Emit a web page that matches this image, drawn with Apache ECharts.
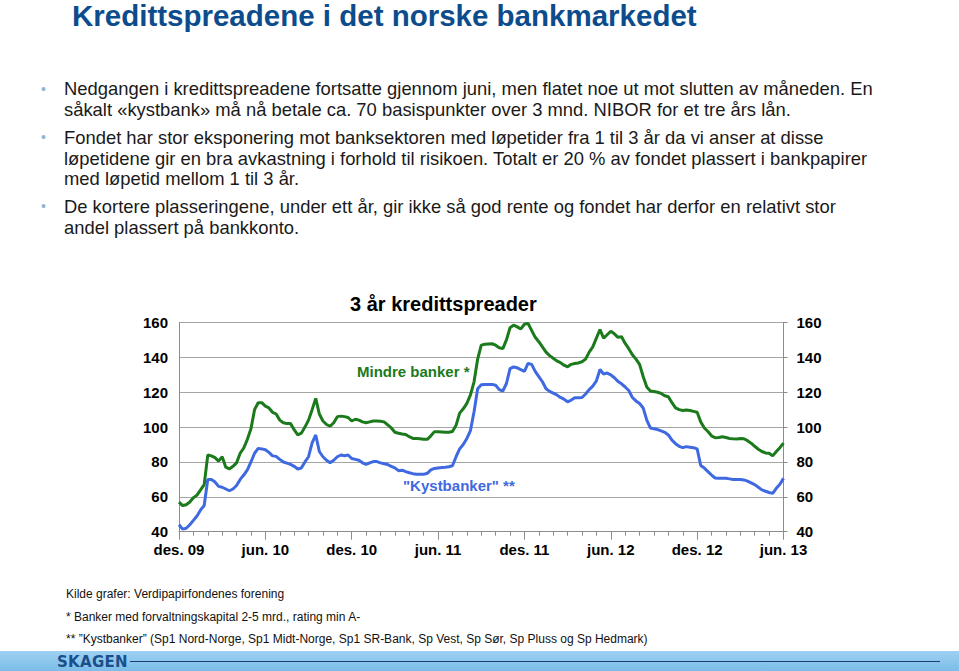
<!DOCTYPE html>
<html>
<head>
<meta charset="utf-8">
<script src="https://cdn.jsdelivr.net/npm/echarts@6/dist/echarts.min.js"></script>
<style>
html,body{margin:0;padding:0;width:959px;height:671px;overflow:hidden;background:#fff;font-family:"Liberation Sans",Arial,sans-serif;}
#chart{position:absolute;left:0;top:0;width:959px;height:671px;}
.t{position:absolute;white-space:nowrap;color:#1a1a1a;}
#title{left:72px;top:0px;font-size:29.5px;line-height:31px;font-weight:bold;color:#0d4c8c;}
.b{position:absolute;left:64px;font-size:18.4px;line-height:20.5px;color:#1a1a1a;white-space:nowrap;}
.dot{position:absolute;left:41px;font-size:14px;color:#8fb5d6;}
.fn{position:absolute;left:66px;font-size:12px;color:#111;white-space:nowrap;}
#bar{position:absolute;left:0;top:651px;width:959px;height:20px;background:linear-gradient(#9fd0f2,#7bbde9);}
#logo{position:absolute;left:57px;top:653px;font-size:15px;font-weight:bold;color:#1b4f8c;letter-spacing:0.3px;font-family:"DejaVu Sans","Liberation Sans",sans-serif;}
#rule{position:absolute;left:130px;top:661px;width:810px;height:1px;background:#1b3f70;}
</style>
</head>
<body>
<div id="chart"></div>
<div id="title" class="t">Kredittspreadene i det norske bankmarkedet</div>
<div class="dot" style="top:81px">•</div>
<div class="b" style="top:79px">Nedgangen i kredittspreadene fortsatte gjennom juni, men flatet noe ut mot slutten av måneden. En<br>såkalt «kystbank» må nå betale ca. 70 basispunkter over 3 mnd. NIBOR for et tre års lån.</div>
<div class="dot" style="top:129px">•</div>
<div class="b" style="top:128px">Fondet har stor eksponering mot banksektoren med løpetider fra 1 til 3 år da vi anser at disse<br>løpetidene gir en bra avkastning i forhold til risikoen. Totalt er 20 % av fondet plassert i bankpapirer<br>med løpetid mellom 1 til 3 år.</div>
<div class="dot" style="top:198px">•</div>
<div class="b" style="top:197px">De kortere plasseringene, under ett år, gir ikke så god rente og fondet har derfor en relativt stor<br>andel plassert på bankkonto.</div>
<div class="fn" style="top:587px">Kilde grafer: Verdipapirfondenes forening</div>
<div class="fn" style="top:610px">* Banker med forvaltningskapital 2-5 mrd., rating min A-</div>
<div class="fn" style="top:632px">** ”Kystbanker” (Sp1 Nord-Norge, Sp1 Midt-Norge, Sp1 SR-Bank, Sp Vest, Sp Sør, Sp Pluss og Sp Hedmark)</div>
<div id="bar"></div>
<div id="rule"></div>
<div id="logo">SKAGEN</div>
<script>
// Tick labels (every 6 months, 24 quarter-month steps)
var tickLabels = ['des. 09','jun. 10','des. 10','jun. 11','des. 11','jun. 12','des. 12','jun. 13'];
var stepsPerLabel = 24;
var stepsPerMonth = 4;

// Mindre banker * (basis points), quarter-month steps from des. 09 to jun. 13
var mindreBanker = [
57,55,55.5,57,59.5,61,64,67,84,83.5,82.5,80.5,83,77,76,77.5,79.5,85,88,93,
99,110,114,114,112,111,108.5,107.5,104,102.5,102,102,98.5,95.5,96.5,100,104,110,116.5,107.5,
103.5,101.5,100.5,102.5,106,106.3,106,105.5,103.5,104.5,104,103,102.5,103,103.5,103.5,103.3,103,101.3,99.5,
97,96.5,96,95.8,94.5,93.5,93.5,93.3,93,93,95,97.4,97.4,97.2,97,97,97.5,101,108,110.5,
113.6,118.5,126,139,147,147.5,147.7,147.8,147,145.5,145,150,157,158.5,157.5,156.3,159,159.5,155.5,151.5,
149,146,143,141,139.5,138,137,135.5,134.6,136,136.5,136.8,137.5,139,143,146,151,156,151,153,
155,153.5,151.5,151.8,148,145,141.5,139,136,129,123,120.7,120.4,120,119.3,118,117.4,114,111,110,
109.5,109.8,109.5,109,108.5,103,99.5,97.5,95,93.9,94,94.5,94,93.5,93.3,93.2,93.5,93.3,92.2,90.8,
89,87.3,86,85.2,85,83.5,86,88.2,90.8
];

// "Kystbanker" ** (basis points)
var kystbanker = [
44,41.5,42,44,46.5,49,52.5,55,70,70,68.5,66,65.5,64.5,63.5,64.5,66.5,70,72.5,75.5,
80,85,87.8,87.5,87,85.5,83.5,83.2,81.5,80,79.3,78.6,77.5,76,76.5,80,83,91,95.5,86,
83,81,79.5,81,83,84,83.6,84,82,81.5,81,79.5,78.6,79.5,80.2,80.2,79.5,79,78.5,77.5,
76.6,75,75.3,74.5,73.8,73.3,73,72.9,72.9,73.5,75.5,76.3,76.6,76.8,77,77.3,77.8,83,87.5,90,
93.5,98,108.8,122,124.3,124.5,124.5,124.5,124,121.5,120.7,125,133.5,134.5,134,133,132,136.5,136,132,
129,126,122,120.5,119.5,118.5,117,116,114.5,115.5,116.8,116.8,117,119,121.5,123.5,126.5,133,130.5,131,
130,128.3,126.2,124.8,123,121,117,115,113.5,111,104,99.5,99,98.6,97.8,97,95.5,92.5,90.5,89,
88.2,88.8,88.5,88.2,87.5,78,76.5,74.5,72.5,70.8,70.6,70.6,70.6,70.3,70,70,70,69.7,69,68,
67,65.5,64,63.2,62.5,62,64.9,67.2,70.6
];

var categories = mindreBanker.map(function(_, i){ return String(i); });

var chart = echarts.init(document.getElementById('chart'), null, {renderer:'svg'});
var axisFont = {fontFamily:'"Liberation Sans", Arial, sans-serif', fontSize:15, fontWeight:'bold', color:'#000'};
chart.setOption({
  animation:false,
  grid:{left:179, right:175.5, top:322.5, bottom:139.3, containLabel:false},
  xAxis:[{
    type:'category', data:categories, boundaryGap:false,
    axisLine:{show:true, lineStyle:{color:'#8c8c8c', width:1}},
    axisTick:{show:true, length:4, interval:function(i){return i % stepsPerMonth === 0;}, lineStyle:{color:'#8c8c8c'}},
    axisLabel:Object.assign({interval:function(i){return i % stepsPerLabel === 0;}, margin:10,
      formatter:function(v, i){ return tickLabels[Math.round(i/stepsPerLabel)]; }}, axisFont),
    splitLine:{show:false}
  },{
    type:'category', data:categories, boundaryGap:false, position:'bottom', offset:0,
    axisLine:{show:false},
    axisTick:{show:true, length:8, interval:function(i){return i % stepsPerLabel === 0;}, lineStyle:{color:'#8c8c8c'}},
    axisLabel:{show:false}, splitLine:{show:false}
  }],
  yAxis:[{
    type:'value', min:40, max:160, interval:20, position:'left',
    axisLine:{show:true, lineStyle:{color:'#8c8c8c'}},
    axisTick:{show:false},
    axisLabel:Object.assign({margin:11}, axisFont),
    splitLine:{show:true, lineStyle:{color:'#a6a6a6', width:1}}
  },{
    type:'value', min:40, max:160, interval:20, position:'right',
    axisLine:{show:true, lineStyle:{color:'#8c8c8c'}},
    axisTick:{show:true, length:4, lineStyle:{color:'#8c8c8c'}},
    axisLabel:Object.assign({margin:13}, axisFont),
    splitLine:{show:false}
  }],
  series:[{
    name:'Mindre banker *', type:'line', data:mindreBanker, xAxisIndex:0, yAxisIndex:0,
    symbol:'none', lineStyle:{color:'#1b7a1b', width:3}, itemStyle:{color:'#1b7a1b'}
  },{
    name:'"Kystbanker" **', type:'line', data:kystbanker, xAxisIndex:0, yAxisIndex:0,
    symbol:'none', lineStyle:{color:'#3f69e0', width:3}, itemStyle:{color:'#3f69e0'}
  }],
  graphic:[
    {type:'text', left:350, top:294, style:{text:'3 år kredittspreader', fontFamily:'"Liberation Sans", Arial, sans-serif', fontSize:20, fontWeight:'bold', fill:'#000'}},
    {type:'text', left:357, top:364, style:{text:'Mindre banker *', fontFamily:'"Liberation Sans", Arial, sans-serif', fontSize:15, fontWeight:'bold', fill:'#1b7a1b'}},
    {type:'text', left:403, top:478, style:{text:'"Kystbanker" **', fontFamily:'"Liberation Sans", Arial, sans-serif', fontSize:15, fontWeight:'bold', fill:'#3f69e0'}}
  ]
});
</script>
</body>
</html>
